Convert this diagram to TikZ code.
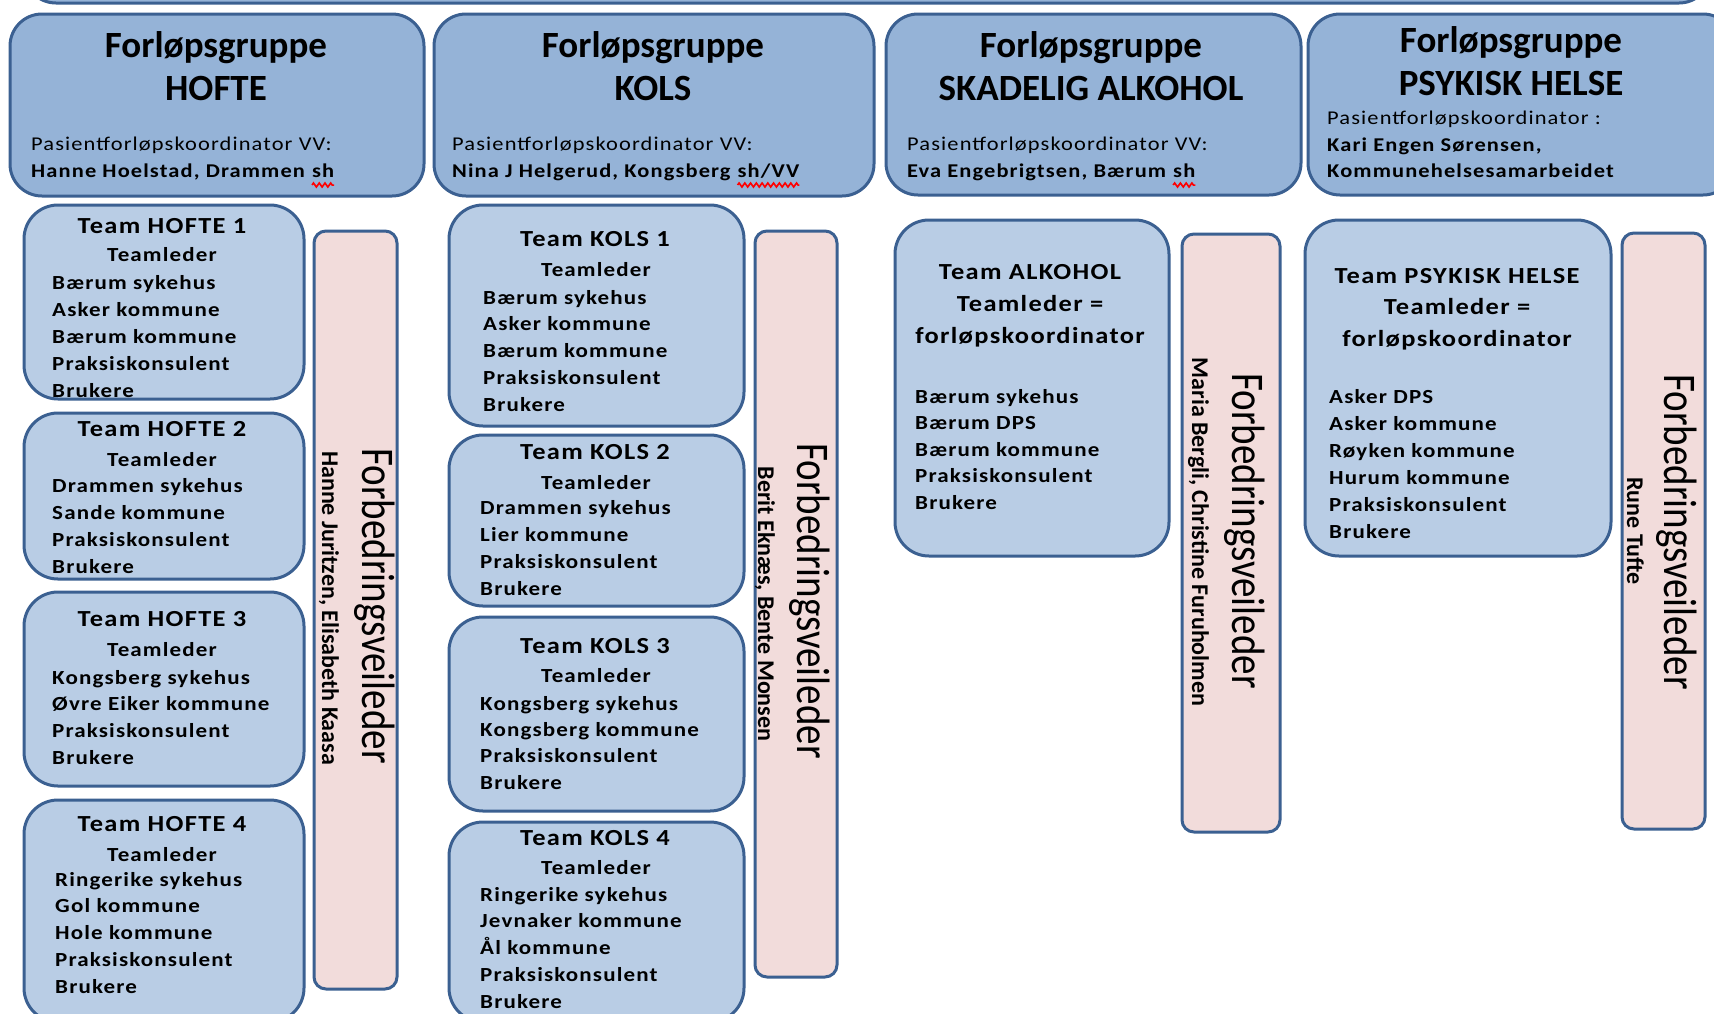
\documentclass[tikz,border=0pt]{standalone}
\usepackage{fontspec}
\usepackage{graphicx}
\setmainfont{Carlito}
\newfontfamily\wide[LetterSpace=5]{Carlito}
\usetikzlibrary{decorations.pathmorphing}

\definecolor{bordr}{HTML}{3B6091}
\definecolor{grpfill}{HTML}{95B3D7}
\definecolor{teamfill}{HTML}{B9CDE5}
\definecolor{veilfill}{HTML}{F2DCDB}

% red spell-check wave under a word
\newcommand\squig[1]{\tikz[baseline=(sq.base)]{\node[anchor=base,inner sep=0pt,outer sep=0pt] (sq) at (0,0) {#1};
  \draw[red,line width=1.5pt,decorate,decoration={zigzag,segment length=5pt,amplitude=2pt}] ([yshift=-8pt]sq.base west) -- ([yshift=-8pt]sq.base east);}}

\tikzset{
  grp/.style={draw=bordr,fill=grpfill,line width=3pt,rounded corners=32pt},
  team/.style={draw=bordr,fill=teamfill,line width=3pt,rounded corners=34pt},
  veil/.style={draw=bordr,fill=veilfill,line width=3pt,rounded corners=12pt},
  title/.style={anchor=base,inner sep=0pt,font=\fontsize{37}{41}\selectfont\bfseries},
  coord/.style={anchor=base west,inner sep=0pt,xscale=1.15,font=\wide\fontsize{19.5}{27}\selectfont},
  coordname/.style={coord,font=\wide\fontsize{19.5}{27}\selectfont\bfseries},
  head/.style={anchor=base,inner sep=0pt,xscale=1.15,font=\wide\fontsize{23}{30}\selectfont\bfseries},
  lead/.style={anchor=base,inner sep=0pt,xscale=1.15,font=\wide\fontsize{20}{27}\selectfont\bfseries},
  item/.style={anchor=base west,inner sep=0pt,xscale=1.15,font=\wide\fontsize{20}{27}\selectfont\bfseries},
  veiltxt/.style={anchor=base,rotate=-90,inner sep=0pt,font=\fontsize{39}{44}\selectfont},
  veilname/.style={anchor=base,rotate=-90,inner sep=0pt,font=\fontsize{24}{28}\selectfont\bfseries}
}

\begin{document}
\begin{tikzpicture}[x=1pt,y=-1pt]
\path[fill=white,use as bounding box] (0,0) rectangle (1714,1013);
\draw[grp] (24,-60) rectangle (1711,3);

% forloepsgrupper
\draw[grp] (10,14) rectangle (424,196);
\node[title] (hofte-t1) at (216,57) {Forløpsgruppe};
\node[title] (hofte-t2) at (216,100) {HOFTE};
\node[coord] (hofte-c1) at (31,150) {Pasientforløpskoordinator VV:};
\node[coordname] (hofte-c2) at (31,177) {Hanne Hoelstad, Drammen \squig{sh}};

\draw[grp] (434,14) rectangle (874,196);
\node[title] (kols-t1) at (653,57) {Forløpsgruppe};
\node[title] (kols-t2) at (653,100) {KOLS};
\node[coord] (kols-c1) at (452,150) {Pasientforløpskoordinator VV:};
\node[coordname] (kols-c2) at (452,177) {Nina J Helgerud, Kongsberg \squig{sh/VV}};

\draw[grp] (886,14) rectangle (1301,195);
\node[title] (alk-t1) at (1091,57) {Forløpsgruppe};
\node[title] (alk-t2) at (1091,100) {SKADELIG ALKOHOL};
\node[coord] (alk-c1) at (907,150) {Pasientforløpskoordinator VV:};
\node[coordname] (alk-c2) at (907,177) {Eva Engebrigtsen, Bærum \squig{sh}};

\draw[grp] (1308,14) rectangle (1735,195);
\node[title] (psyk-t1) at (1511,52) {Forløpsgruppe};
\node[title] (psyk-t2) at (1511,95) {PSYKISK HELSE};
\node[coord] (psyk-c1) at (1327,124) {Pasientforløpskoordinator :};
\node[coordname] (psyk-c2) at (1327,151) {Kari Engen Sørensen,};
\node[coordname] (psyk-c3) at (1327,177) {Kommunehelsesamarbeidet};

% team hofte
\draw[team] (24,205) rectangle (304,399);
\node[head] (h1) at (162,233) {Team HOFTE 1};
\node[lead] (h1l) at (162,261) {Teamleder};
\foreach \t [count=\i from 0] in {Bærum sykehus,Asker kommune,Bærum kommune,Praksiskonsulent,Brukere}
  \node[item] (h1-\i) at (52,289+27.2*\i) {\t};

\draw[team] (24,413) rectangle (304,579);
\node[head] (h2) at (162,436) {Team HOFTE 2};
\node[lead] (h2l) at (162,466) {Teamleder};
\foreach \t [count=\i from 0] in {Drammen sykehus,Sande kommune,Praksiskonsulent,Brukere}
  \node[item] (h2-\i) at (52,492+27*\i) {\t};

\draw[team] (24,592) rectangle (304,786);
\node[head] (h3) at (162,626) {Team HOFTE 3};
\node[lead] (h3l) at (162,656) {Teamleder};
\foreach \t [count=\i from 0] in {Kongsberg sykehus,Øvre Eiker kommune,Praksiskonsulent,Brukere}
  \node[item] (h3-\i) at (52,684+26.7*\i) {\t};

\draw[team] (24,800) rectangle (304,1022);
\node[head] (h4) at (162,831) {Team HOFTE 4};
\node[lead] (h4l) at (162,861) {Teamleder};
\foreach \t [count=\i from 0] in {Ringerike sykehus,Gol kommune,Hole kommune,Praksiskonsulent,Brukere}
  \node[item] (h4-\i) at (55,886+26.8*\i) {\t};

\draw[veil] (314,231) rectangle (397,989);
\node[veiltxt] (hv) at (362,606) {\scalebox{1}[1.2]{Forbedringsveileder}};
\node[veilname] (hvn) at (322,608) {Hanne Juritzen, Elisabeth Kaasa};

% team kols
\draw[team] (449,205) rectangle (744,426);
\node[head] (k1) at (595,246) {Team KOLS 1};
\node[lead] (k1l) at (596,276) {Teamleder};
\foreach \t [count=\i from 0] in {Bærum sykehus,Asker kommune,Bærum kommune,Praksiskonsulent,Brukere}
  \node[item] (k1-\i) at (483,304+26.8*\i) {\t};

\draw[team] (449,435) rectangle (744,606);
\node[head] (k2) at (595,459) {Team KOLS 2};
\node[lead] (k2l) at (596,489) {Teamleder};
\foreach \t [count=\i from 0] in {Drammen sykehus,Lier kommune,Praksiskonsulent,Brukere}
  \node[item] (k2-\i) at (480,514+27*\i) {\t};

\draw[team] (449,617) rectangle (744,811);
\node[head] (k3) at (595,653) {Team KOLS 3};
\node[lead] (k3l) at (596,682) {Teamleder};
\foreach \t [count=\i from 0] in {Kongsberg sykehus,Kongsberg kommune,Praksiskonsulent,Brukere}
  \node[item] (k3-\i) at (480,710+26.4*\i) {\t};

\draw[team] (449,822) rectangle (744,1022);
\node[head] (k4) at (595,845) {Team KOLS 4};
\node[lead] (k4l) at (596,874) {Teamleder};
\foreach \t [count=\i from 0] in {Ringerike sykehus,Jevnaker kommune,Ål kommune,Praksiskonsulent,Brukere}
  \node[item] (k4-\i) at (480,901+26.8*\i) {\t};

\draw[veil] (755,231) rectangle (837,977);
\node[veiltxt] (kv) at (797,601) {\scalebox{1}[1.2]{Forbedringsveileder}};
\node[veilname] (kvn) at (758,604) {Berit Eknæs, Bente Monsen};

% team alkohol
\draw[team] (895,220) rectangle (1169,556);
\node[head] (a1) at (1030,279) {Team ALKOHOL};
\node[head] (a1l) at (1030,311) {Teamleder =};
\node[head] (a1k) at (1030,343) {forløpskoordinator};
\foreach \t [count=\i from 0] in {Bærum sykehus,Bærum DPS,Bærum kommune,Praksiskonsulent,Brukere}
  \node[item] (a1-\i) at (915,403+26.5*\i) {\t};

\draw[veil] (1182,234) rectangle (1280,832);
\node[veiltxt] (av) at (1232,531) {\scalebox{1}[1.2]{Forbedringsveileder}};
\node[veilname] (avn) at (1192,532) {Maria Bergli, Christine Furuholmen};

% team psykisk helse
\draw[team] (1305,220) rectangle (1611,556);
\node[head] (p1) at (1457,283) {Team PSYKISK HELSE};
\node[head] (p1l) at (1457,314) {Teamleder =};
\node[head] (p1k) at (1457,346) {forløpskoordinator};
\foreach \t [count=\i from 0] in {Asker DPS,Asker kommune,Røyken kommune,Hurum kommune,Praksiskonsulent,Brukere}
  \node[item] (p1-\i) at (1329,403+27*\i) {\t};

\draw[veil] (1622,233) rectangle (1705,829);
\node[veiltxt] (pv) at (1664,532) {\scalebox{1}[1.2]{Forbedringsveileder}};
\node[veilname] (pvn) at (1627,531) {Rune Tufte};
\end{tikzpicture}
\end{document}
